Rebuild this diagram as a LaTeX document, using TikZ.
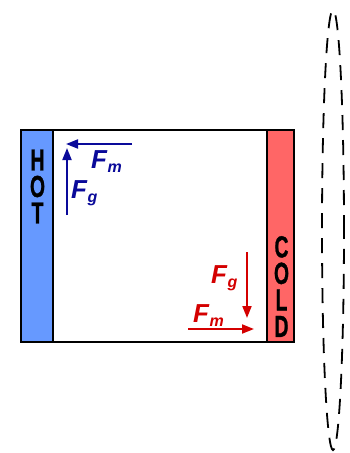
\documentclass[tikz,border=0pt]{standalone}
\usepackage{fontspec}
\setmainfont{Liberation Sans}
\newfontfamily\heavyfont[BoldFeatures={FakeBold=1.2}]{Liberation Sans}
\usetikzlibrary{arrows.meta,shapes.geometric}
\definecolor{hotblue}{HTML}{6699FF}
\definecolor{coldred}{HTML}{FF6666}
\definecolor{navy}{HTML}{0A0A9A}
\definecolor{darkred}{HTML}{D40000}
\newcommand{\bigletter}[1]{\scalebox{0.92}[1.45]{\fontsize{21}{21}\heavyfont\bfseries #1}}
\newcommand{\force}[1]{\fontsize{26}{26}\selectfont\bfseries\itshape F\kern0.5pt\raisebox{-4pt}{\fontsize{16}{16}\selectfont #1}}
\begin{document}
\begin{tikzpicture}[x=1pt,y=-1pt,
  frame/.style={draw=black,line width=1.5pt},
  letters/.style={inner sep=0pt,text=black,align=center,font=\fontsize{10}{26.5}\selectfont},
  farrow/.style={line width=1.8pt,-{Triangle[length=12pt,width=9pt]}},
  flabel/.style={inner sep=0pt,anchor=base west}]
\useasboundingbox[fill=white] (0,0) rectangle (350,453);
% main box
\node[frame,fill=white,minimum width=273pt,minimum height=212pt,inner sep=0pt] (box) at (157.5,236) {};
\node[frame,fill=hotblue,minimum width=32pt,minimum height=212pt,inner sep=0pt,anchor=north west] (hot) at (box.north west) {};
\node[frame,fill=coldred,minimum width=27pt,minimum height=212pt,inner sep=0pt,anchor=north east] (cold) at (box.north east) {};
% HOT letters
\node[letters] (hottext) at (37.5,186.5) {\bigletter{H}\\\bigletter{O}\\\bigletter{T}};
% COLD letters
\node[letters] (coldtext) at (281.5,286.5) {\bigletter{C}\\\bigletter{O}\\\bigletter{L}\\\bigletter{D}};
% blue forces
\coordinate (bm1) at (132,144);
\coordinate (bm2) at (66,144);
\coordinate (bg1) at (67,215);
\coordinate (bg2) at (67,148);
\draw[farrow,navy] (bm1) -- (bm2);
\draw[farrow,navy] (bg1) -- (bg2);
\node[flabel,text=navy] (bfm) at (91,168) {\force{m}};
\node[flabel,text=navy] (bfg) at (71,198) {\force{g}};
% red forces
\coordinate (rg1) at (247,252);
\coordinate (rg2) at (247,318);
\coordinate (rm1) at (188,329);
\coordinate (rm2) at (254,329);
\draw[farrow,darkred] (rg1) -- (rg2);
\draw[farrow,darkred] (rm1) -- (rm2);
\node[flabel,text=darkred] (rfg) at (211,283) {\force{g}};
\node[flabel,text=darkred] (rfm) at (193,322) {\force{m}};
% dashed ellipse
\node[draw=black,line width=1.8pt,dash pattern=on 15pt off 10pt,ellipse,minimum width=22pt,minimum height=440pt,inner sep=0pt] (loop) at (333,230) {};
\end{tikzpicture}
\end{document}
